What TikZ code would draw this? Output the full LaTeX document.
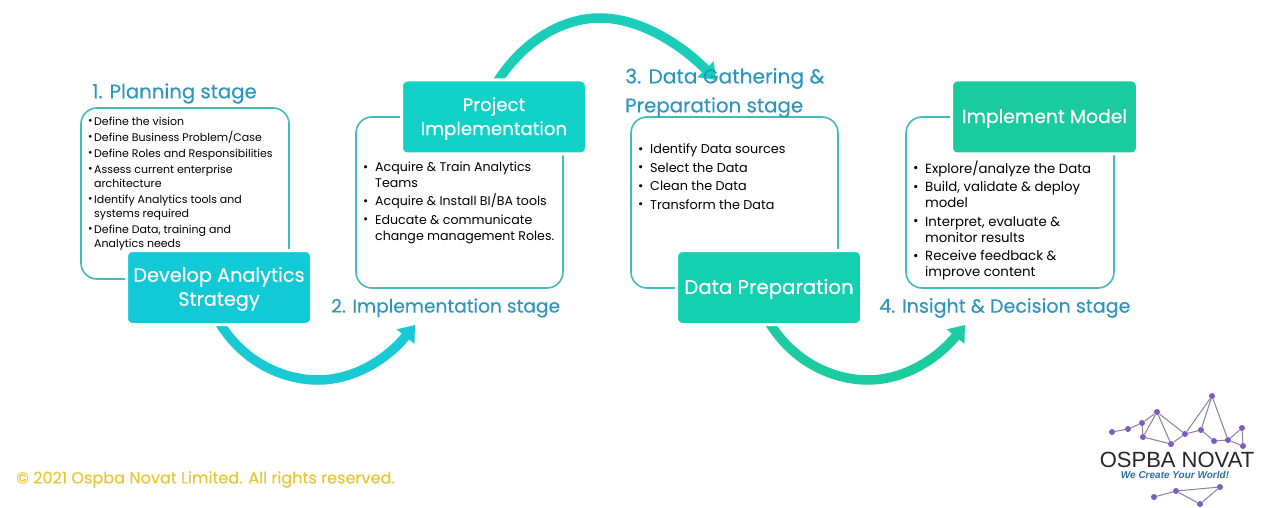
\documentclass[tikz,border=0pt]{standalone}
\usepackage{fontspec}
\setmainfont{Poppins}
\newfontfamily\medfont[FakeBold=0.25]{Poppins}
\newfontfamily\logofont{Liberation Sans}
\usetikzlibrary{arrows.meta,backgrounds}
\definecolor{headc}{HTML}{2E96BE}
\definecolor{outl}{HTML}{3FBDBB}
\definecolor{devc}{HTML}{12CAD6}
\definecolor{projc}{HTML}{12D2C8}
\definecolor{prepc}{HTML}{12D0B0}
\definecolor{implc}{HTML}{1ACBA0}
\definecolor{arcA}{HTML}{19C9D3}
\definecolor{arcB}{HTML}{19CDB9}
\definecolor{arcC}{HTML}{1CCB9F}
\definecolor{goldc}{HTML}{E8C832}
\definecolor{dotc}{HTML}{7B5CC4}
\definecolor{edgec}{HTML}{8A7FA0}
\definecolor{tagc}{HTML}{2F6C9E}
\newcommand{\bl}[1]{\makebox[#1][l]{\raisebox{0.05em}{•}}}
\tikzset{
  panel/.style={draw=outl,line width=1.6pt,rounded corners=16pt,minimum width=#1,minimum height=171pt,inner sep=0pt,fill=white},
  stagebox/.style={draw=white,line width=3pt,rounded corners=6pt,minimum height=74pt,inner sep=0pt},
  stagetext/.style={text=white,align=center,inner sep=0pt,yshift=-1.5pt},
  heading/.style={anchor=west,text=headc,inner sep=0pt},
  listtext/.style={anchor=north west,inner sep=0pt,align=left,text=black},
  flow/.style={line width=9.5pt,-{Triangle[length=15pt,width=22pt]}},
  dot/.style={circle,fill=dotc,inner sep=0pt,minimum size=6pt},
}
\begin{document}
\begin{tikzpicture}[x=1pt,y=-1pt]
\useasboundingbox (0,0) rectangle (1261,508);
% panels
\node[panel=208pt] (p1) at (185,193.5) {};
\node[panel=207pt] (p2) at (459.5,202.5) {};
\node[panel=207pt] (p3) at (734.5,202.5) {};
\node[panel=208pt] (p4) at (1010,202.5) {};
% stage boxes
\node[stagebox,fill=devc,minimum width=185pt,label={[stagetext,font=\medfont\fontsize{19.3}{24}\selectfont]center:Develop Analytics\\Strategy}] (dev) at (219,287.5) {};
\node[stagebox,fill=projc,minimum width=185pt,label={[stagetext,font=\medfont\fontsize{18.2}{24}\selectfont]center:Project\\Implementation}] (proj) at (494,117) {};
\node[stagebox,fill=prepc,minimum width=185pt,label={[stagetext,font=\medfont\fontsize{19.8}{24}\selectfont]center:Data Preparation}] (prep) at (769,287.5) {};
\node[stagebox,fill=implc,minimum width=186pt,label={[stagetext,font=\medfont\fontsize{18.8}{24}\selectfont]center:Implement Model}] (impl) at (1044.5,117) {};
% arrow ends
\coordinate (tipA) at (415,325);
\coordinate (midA) at (318,380);
\coordinate (tipB) at (716,80);
\coordinate (midB) at (600,18);
\coordinate (tipC) at (965,325);
\coordinate (midC) at (868,380);
\begin{scope}[on background layer]
\draw[flow,arcA] ([shift={(0,-4)}]dev.south) .. controls (243,362) and (283,380) .. (midA) .. controls (355,380) and (388,358) .. (tipA);
\draw[flow,arcB] ([shift={(2,5)}]proj.north) .. controls (525,38) and (565,18) .. (midB) .. controls (640,18) and (682,45) .. (tipB);
\draw[flow,arcC] ([shift={(0,-4)}]prep.south) .. controls (793,362) and (833,380) .. (midC) .. controls (905,380) and (938,358) .. (tipC);
\end{scope}
% headings
\node[heading,font=\medfont\fontsize{19.7}{24}\selectfont] (h1) at (92,93.5) {1. Planning stage};
\node[heading,font=\medfont\fontsize{18.6}{24}\selectfont] (h2) at (331,308) {2. Implementation stage};
\node[heading,font=\medfont\fontsize{20.2}{24}\selectfont] (h3a) at (625,78.5) {3. Data Gathering \&};
\node[heading,font=\medfont\fontsize{19.8}{24}\selectfont] (h3b) at (625,107.5) {Preparation stage};
\node[heading,font=\medfont\fontsize{19.1}{24}\selectfont] (h4) at (879,308) {4. Insight \& Decision stage};
% lists
\node[listtext,font=\fontsize{11}{14}\selectfont] (l1) at (88,116.5) {\bl{6pt}Define the vision\\[2pt]\bl{6pt}Define Business Problem/Case\\[2pt]\bl{6pt}Define Roles and Responsibilities\\[2pt]\bl{6pt}Assess current enterprise\\\hspace*{6pt}architecture\\[2pt]\bl{6pt}Identify Analytics tools and\\\hspace*{6pt}systems required\\[2pt]\bl{6pt}Define Data, training and\\\hspace*{6pt}Analytics needs};
\node[listtext,font=\fontsize{12.6}{16}\selectfont] (l2) at (363,162) {\bl{12pt}Acquire \& Train Analytics\\\hspace*{12pt}Teams\\[2pt]\bl{12pt}Acquire \& Install BI/BA tools\\[2.5pt]\bl{12pt}Educate \& communicate\\\hspace*{12pt}change management Roles.};
\node[listtext,font=\fontsize{12.8}{16}\selectfont] (l3) at (638,144) {\bl{12pt}Identify Data sources\\[2.5pt]\bl{12pt}Select the Data\\[2.5pt]\bl{12pt}Clean the Data\\[2.5pt]\bl{12pt}Transform the Data};
\node[listtext,font=\fontsize{13.3}{16}\selectfont] (l4) at (913,160.5) {\bl{12pt}Explore/analyze the Data\\[2.5pt]\bl{12pt}Build, validate \& deploy\\\hspace*{12pt}model\\[2.5pt]\bl{12pt}Interpret, evaluate \&\\\hspace*{12pt}monitor results\\[2.5pt]\bl{12pt}Receive feedback \&\\\hspace*{12pt}improve content};
% copyright
\node[anchor=west,inner sep=0pt,text=goldc,font=\medfont\fontsize{16.1}{18}\selectfont] (copy) at (16,479.5) {© 2021 Ospba Novat Limited. All rights reserved.};
% logo
\foreach \n/\x/\y in {a/1112/432,b/1128/429,c/1142/423,d/1157/412,e/1143/437,f/1171/444,g/1185/434,h/1201/430,i/1212/396,j/1214/441,k/1228/440,m/1242/428,n/1243/446,o/1154/497,p/1176/491,q/1220/487,r/1200/504}
  \node[dot] (\n) at (\x,\y) {};
\begin{scope}[on background layer]
\foreach \s/\t in {a/b,b/c,c/d,d/e,c/e,d/f,e/f,d/g,f/g,g/h,g/i,h/i,i/k,h/j,j/k,k/m,m/n,k/n,o/p,p/q,q/r,r/p}
  \draw[edgec,line width=1pt] (\s) -- (\t);
\end{scope}
\node[inner sep=0pt,text=black!85,font=\logofont\fontsize{22}{24}\selectfont] (brand) at (1177,460) {OSPBA NOVAT};
\node[inner sep=0pt,text=tagc,font=\logofont\bfseries\itshape\fontsize{10}{12}\selectfont] (tag) at (1175,474.5) {We Create Your World!};
\end{tikzpicture}
\end{document}
